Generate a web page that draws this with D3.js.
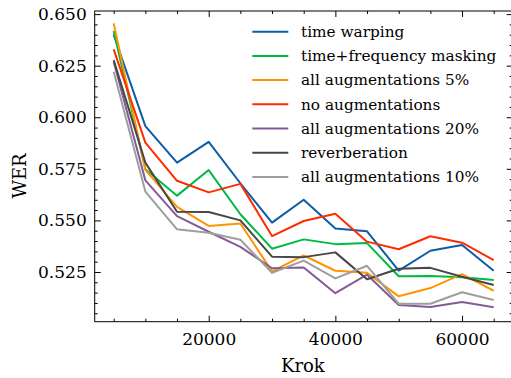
<!DOCTYPE html>
<html>
<head>
<meta charset="utf-8">
<script src="https://cdn.jsdelivr.net/npm/d3@7/dist/d3.min.js"></script>
<style>
  body { margin: 0; background: #fff; }
  svg { display: block; }
  svg text { font-family: 'DejaVu Serif', serif; }
</style>
</head>
<body>
<div id="chart"></div>
<script>
// training steps (x)
const steps = [5000, 10000, 15000, 20000, 25000, 30000, 35000, 40000, 45000, 50000, 55000, 60000, 65000];

// WER per run
const timeWarping  = [0.6400, 0.5957, 0.5780, 0.5881, 0.5680, 0.5489, 0.5600, 0.5461, 0.5447, 0.5257, 0.5353, 0.5381, 0.5256];
const tfMasking    = [0.6418, 0.5748, 0.5620, 0.5744, 0.5530, 0.5363, 0.5408, 0.5385, 0.5390, 0.5229, 0.5231, 0.5224, 0.5211];
const allAug5      = [0.6455, 0.5745, 0.5566, 0.5473, 0.5485, 0.5253, 0.5330, 0.5256, 0.5246, 0.5132, 0.5172, 0.5240, 0.5159];
const noAug        = [0.6329, 0.5877, 0.5692, 0.5636, 0.5677, 0.5424, 0.5497, 0.5532, 0.5397, 0.5360, 0.5423, 0.5392, 0.5308];
const allAug20     = [0.6269, 0.5694, 0.5521, 0.5445, 0.5372, 0.5268, 0.5272, 0.5147, 0.5237, 0.5090, 0.5080, 0.5105, 0.5079];
const reverb       = [0.6277, 0.5780, 0.5542, 0.5541, 0.5500, 0.5324, 0.5322, 0.5345, 0.5215, 0.5266, 0.5270, 0.5227, 0.5187];
const allAug10     = [0.6220, 0.5640, 0.5457, 0.5440, 0.5406, 0.5246, 0.5305, 0.5219, 0.5280, 0.5096, 0.5096, 0.5152, 0.5114];

const seriesNames = ['time warping', 'time+frequency masking', 'all augmentations 5%', 'no augmentations',
                     'all augmentations 20%', 'reverberation', 'all augmentations 10%'];
const seriesValues = [timeWarping, tfMasking, allAug5, noAug, allAug20, reverb, allAug10];
const seriesColors = ['#0C5DA5', '#00B945', '#FF9500', '#FF2C00', '#845B97', '#474747', '#9e9e9e'];

const xMajor = [20000, 40000, 60000];
const yMajor = [0.525, 0.550, 0.575, 0.600, 0.625, 0.650];

const W = 511, H = 378;
const plot = { left: 94.7, right: 512.7, top: 11, bottom: 321.7 };

const svg = d3.select('#chart')
  .append('svg')
    .attr('width', W)
    .attr('height', H);

const x = d3.scaleLinear().domain([2000, 68000]).range([plot.left, plot.right]);
const y = d3.scaleLinear().domain([0.5009, 0.6515]).range([plot.bottom, plot.top]);

svg.append('defs').append('clipPath').attr('id', 'clip')
  .append('rect')
    .attr('x', plot.left).attr('y', plot.top)
    .attr('width', plot.right - plot.left).attr('height', plot.bottom - plot.top);

// ---- ticks (inward, all four sides) ----
const minorX = d3.range(5000, 68000, 5000).filter(v => !xMajor.includes(v));
const minorY = d3.range(0.505, 0.652, 0.005).filter(v => !yMajor.some(m => Math.abs(m - v) < 1e-6));

function styleAxis(g) {
  g.select('.domain').remove();
  g.selectAll('line').attr('stroke', '#000').attr('stroke-width', 1);
  g.selectAll('text').attr('fill', '#000').attr('font-family', 'DejaVu Serif');
}

svg.append('g')
  .attr('transform', `translate(0,${plot.bottom})`)
  .call(d3.axisBottom(x).tickValues(xMajor).tickSize(-6).tickPadding(11).tickFormat(d3.format('d')))
  .call(styleAxis)
  .selectAll('text').style('font-size', '17px');

svg.append('g')
  .attr('transform', `translate(0,${plot.bottom})`)
  .call(d3.axisBottom(x).tickValues(minorX).tickSize(-3).tickFormat(''))
  .call(styleAxis);

svg.append('g')
  .attr('transform', `translate(0,${plot.top})`)
  .call(d3.axisTop(x).tickValues(xMajor).tickSize(-6).tickFormat(''))
  .call(styleAxis);

svg.append('g')
  .attr('transform', `translate(0,${plot.top})`)
  .call(d3.axisTop(x).tickValues(minorX).tickSize(-3).tickFormat(''))
  .call(styleAxis);

svg.append('g')
  .attr('transform', `translate(${plot.left},0)`)
  .call(d3.axisLeft(y).tickValues(yMajor).tickSize(-6).tickPadding(8).tickFormat(d3.format('.3f')))
  .call(styleAxis)
  .selectAll('text').style('font-size', '17px');

svg.append('g')
  .attr('transform', `translate(${plot.left},0)`)
  .call(d3.axisLeft(y).tickValues(minorY).tickSize(-3).tickFormat(''))
  .call(styleAxis);

svg.append('g')
  .attr('transform', `translate(${plot.right},0)`)
  .call(d3.axisRight(y).tickValues(yMajor).tickSize(-6).tickFormat(''))
  .call(styleAxis);

svg.append('g')
  .attr('transform', `translate(${plot.right},0)`)
  .call(d3.axisRight(y).tickValues(minorY).tickSize(-3).tickFormat(''))
  .call(styleAxis);

// frame
svg.append('rect')
  .attr('x', plot.left).attr('y', plot.top)
  .attr('width', plot.right - plot.left).attr('height', plot.bottom - plot.top)
  .attr('fill', 'none')
  .attr('stroke', '#000')
  .attr('stroke-width', 1);

// ---- series ----
const line = d3.line()
  .x((d, i) => x(steps[i]))
  .y(d => y(d));

svg.append('g')
  .attr('clip-path', 'url(#clip)')
  .selectAll('path')
  .data(seriesValues)
  .enter()
  .append('path')
    .attr('d', d => line(d))
    .attr('fill', 'none')
    .attr('stroke', (d, i) => seriesColors[i])
    .attr('stroke-width', 2)
    .attr('stroke-linejoin', 'round');

// ---- legend ----
const legend = svg.append('g');
const rowY = i => 31.7 + i * 24.2;

legend.selectAll('line')
  .data(seriesNames)
  .enter()
  .append('line')
    .attr('x1', 252.3).attr('x2', 288.3)
    .attr('y1', (d, i) => rowY(i)).attr('y2', (d, i) => rowY(i))
    .attr('stroke', (d, i) => seriesColors[i])
    .attr('stroke-width', 2);

legend.selectAll('text')
  .data(seriesNames)
  .enter()
  .append('text')
    .attr('x', 301)
    .attr('y', (d, i) => rowY(i))
    .attr('dy', '0.35em')
    .style('font-size', '15.3px')
    .style('fill', '#000')
    .text(d => d);

// ---- axis labels ----
svg.append('text')
  .attr('x', (plot.left + 511) / 2)
  .attr('y', 371.5)
  .attr('text-anchor', 'middle')
  .style('font-size', '18px')
  .style('fill', '#000')
  .text('Krok');

svg.append('text')
  .attr('transform', 'translate(26,176) rotate(-90)')
  .attr('text-anchor', 'middle')
  .style('font-size', '18px')
  .style('fill', '#000')
  .text('WER');
</script>
</body>
</html>
